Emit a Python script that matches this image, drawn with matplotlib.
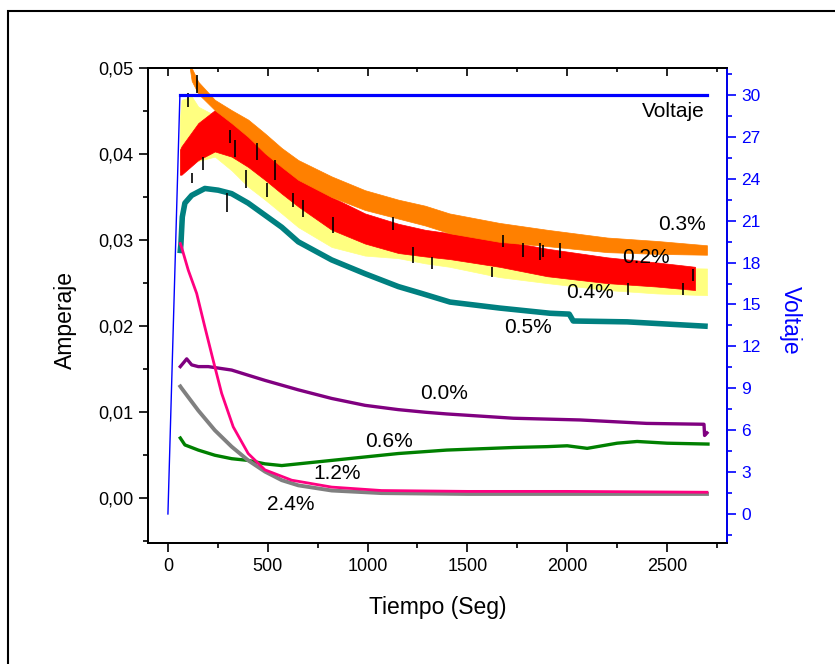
import numpy as np
import matplotlib
matplotlib.use('Agg')
from matplotlib import pyplot as plt
from matplotlib.ticker import MultipleLocator, FuncFormatter
from matplotlib.patches import Rectangle

plt.rcParams['font.family'] = ['Liberation Sans', 'DejaVu Sans']

# corriente (A) vs tiempo (s) para cada concentracion
# bandas con ruido: limite inferior / superior
t_03 = [60, 90, 119, 152, 235, 319, 402, 486, 570, 653, 820, 987, 1154, 1288, 1410, 1660, 1900, 2200, 2450, 2700]
hi_03 = [0.0600, 0.0550, 0.0500, 0.0484, 0.0463, 0.0451, 0.0440, 0.0424, 0.0407, 0.0393, 0.0374, 0.0358, 0.0347, 0.0340,
         0.0331, 0.0320, 0.0312, 0.0303, 0.0299, 0.0294]
lo_03 = [0.0580, 0.0530, 0.0485, 0.0470, 0.0451, 0.0436, 0.0420, 0.0401, 0.0385, 0.0370, 0.0350, 0.0335, 0.0325, 0.0317,
         0.0308, 0.0298, 0.0293, 0.0286, 0.0284, 0.0283]

t_02 = [60, 68, 152, 235, 319, 402, 486, 570, 653, 820, 987, 1154, 1288, 1410, 1660, 1900, 2200, 2450, 2640]
hi_02 = [0.0405, 0.0409, 0.0436, 0.0451, 0.0447, 0.0432, 0.0416, 0.0397, 0.0378, 0.0350, 0.0331, 0.0319, 0.0312,
         0.0308, 0.0300, 0.0290, 0.0280, 0.0274, 0.0269]
lo_02 = [0.0376, 0.0376, 0.0393, 0.0403, 0.0397, 0.0385, 0.0370, 0.0354, 0.0339, 0.0312, 0.0296, 0.0285, 0.0281,
         0.0278, 0.0269, 0.0258, 0.0250, 0.0246, 0.0242]

t_04 = [60, 68, 119, 152, 235, 319, 402, 486, 570, 653, 820, 987, 1154, 1288, 1410, 1660, 1900, 2200, 2450, 2700]
hi_04 = [0.0440, 0.0463, 0.0467, 0.0455, 0.0445, 0.0440, 0.0425, 0.0410, 0.0390, 0.0370, 0.0345, 0.0325, 0.0312, 0.0305,
         0.0300, 0.0290, 0.0280, 0.0272, 0.0268, 0.0267]
lo_04 = [0.0380, 0.0385, 0.0390, 0.0392, 0.0397, 0.0381, 0.0362, 0.0347, 0.0331, 0.0315, 0.0292, 0.0282, 0.0279, 0.0273,
         0.0269, 0.0257, 0.0250, 0.0242, 0.0238, 0.0236]

t_05 = [62, 65, 72, 85, 119, 185, 252, 319, 402, 486, 570, 653, 820, 987, 1154, 1271, 1413, 1663, 1914, 2010, 2030, 2300, 2690]
i_05 = [0.0288, 0.0295, 0.0327, 0.0343, 0.0352, 0.0360, 0.0358, 0.0354, 0.0343, 0.0329, 0.0315, 0.0298, 0.0277, 0.0261,
        0.0246, 0.0238, 0.0228, 0.0221, 0.0215, 0.0214, 0.0206, 0.0205, 0.0200]

t_00 = [62, 80, 94, 119, 152, 202, 319, 402, 486, 653, 820, 987, 1154, 1288, 1396, 1730, 2064, 2398, 2685, 2688, 2700]
i_00 = [0.0153, 0.0158, 0.0162, 0.0155, 0.0153, 0.0153, 0.0149, 0.0143, 0.0137, 0.0126, 0.0116, 0.0108, 0.0103, 0.0100,
        0.0098, 0.0093, 0.0091, 0.0087, 0.0086, 0.0073, 0.0076]

t_06 = [62, 85, 152, 235, 319, 402, 486, 570, 653, 820, 987, 1154, 1396, 1730, 1900, 2000, 2100, 2250, 2350, 2500, 2705]
i_06 = [0.0070, 0.0062, 0.0056, 0.0050, 0.0046, 0.0044, 0.0040, 0.0038, 0.0040, 0.0044, 0.0048, 0.0052, 0.0056, 0.0059,
        0.0060, 0.0061, 0.0058, 0.0064, 0.0066, 0.0064, 0.0063]

t_12 = [62, 68, 102, 144, 185, 227, 269, 327, 402, 486, 620, 820, 1070, 1500, 2000, 2700]
i_12 = [0.0296, 0.0292, 0.0265, 0.0238, 0.0199, 0.0160, 0.0122, 0.0083, 0.0052, 0.0033, 0.0021, 0.0013, 0.0009,
        0.0008, 0.0008, 0.0007]

t_24 = [62, 68, 152, 235, 319, 402, 486, 570, 653, 820, 1070, 1500, 2000, 2700]
i_24 = [0.0130, 0.0128, 0.0102, 0.0079, 0.0060, 0.0044, 0.0031, 0.0021, 0.0015, 0.0009, 0.0006, 0.0005, 0.0005, 0.0005]

# picos negros (t, I_min, I_max)
pico_t = [100, 120, 145, 175, 295, 311, 336, 391, 446, 496, 536, 627, 676, 827,
          1127, 1228, 1322, 1623, 1680, 1780, 1864, 1880, 1965, 2305, 2580, 2630]
pico_lo = [0.0455, 0.0366, 0.0471, 0.0381, 0.0333, 0.0413, 0.0397, 0.0360, 0.0393, 0.0350, 0.0370, 0.0338, 0.0327, 0.0308,
           0.0312, 0.0273, 0.0267, 0.0257, 0.0292, 0.0280, 0.0277, 0.0280, 0.0279, 0.0236, 0.0236, 0.0253]
pico_hi = [0.0471, 0.0378, 0.0492, 0.0397, 0.0355, 0.0428, 0.0416, 0.0381, 0.0413, 0.0366, 0.0393, 0.0355, 0.0347, 0.0327,
           0.0327, 0.0292, 0.0280, 0.0269, 0.0306, 0.0297, 0.0297, 0.0294, 0.0297, 0.0250, 0.0250, 0.0267]

# voltaje aplicado
t_rampa = [0, 60]
v_rampa = [0, 30]
t_volt = [60, 2700]
v_volt = [30, 30]

# etiquetas (texto, t, I)
etiquetas = [('0.3%', 2575, 0.0318), ('0.2%', 2395, 0.0280), ('0.4%', 2114, 0.0239),
             ('0.5%', 1804, 0.0199), ('0.0%', 1383, 0.0122), ('0.6%', 1107, 0.0066),
             ('1.2%', 846, 0.0029), ('2.4%', 616, -0.0007)]

fig = plt.figure(figsize=(8.35, 6.64), dpi=100)
fig.patches.append(Rectangle((0.0096, -0.2), 1.5, 1.1834, transform=fig.transFigure,
                             fill=False, lw=1.5, ec='black'))

ax = fig.add_axes([0.1772, 0.1822, 0.6934, 0.7154])
ax2 = ax.twinx()

ax.fill_between(t_04, lo_04, hi_04, color='#FFFF80', lw=0.5)
ax.fill_between(t_02, lo_02, hi_02, color='#FF0000', lw=0.5)
ax.fill_between(t_03, lo_03, hi_03, color='#FF8000', lw=0.5)
ax.plot(t_05, i_05, color='#008080', lw=4)
ax.vlines(pico_t, pico_lo, pico_hi, color='black', lw=1.2)
ax.plot(t_00, i_00, color='#800080', lw=2.4)
ax.plot(t_06, i_06, color='#008000', lw=2.4)
ax.plot(t_24, i_24, color='#808080', lw=2.8)
ax.plot(t_12, i_12, color='#FF0080', lw=2)

ax2.plot(t_rampa, v_rampa, color='blue', lw=1)
ax2.plot(t_volt, v_volt, color='blue', lw=2.3)

for txt, x, y in etiquetas:
    ax.text(x, y, txt, ha='center', va='center', fontsize=15)
ax.text(2690, 0.0450, 'Voltaje', ha='right', va='center', fontsize=15)

ax.set_xlim(-100, 2800)
ax.set_ylim(-0.0052, 0.05)
ax2.set_ylim(-2.08, 31.93)

ax.xaxis.set_major_locator(MultipleLocator(500))
ax.xaxis.set_minor_locator(MultipleLocator(250))
ax.yaxis.set_major_locator(MultipleLocator(0.01))
ax.yaxis.set_minor_locator(MultipleLocator(0.005))
ax.yaxis.set_major_formatter(FuncFormatter(lambda v, p: f'{v:.2f}'.replace('.', ',')))
ax2.yaxis.set_major_locator(MultipleLocator(3))
ax2.yaxis.set_minor_locator(MultipleLocator(1.5))

ax.tick_params(which='both', direction='out', labelsize=13, width=1.2, pad=4, right=False)
ax.tick_params(which='major', length=6.5)
ax.tick_params(which='minor', length=3.6)
ax2.tick_params(which='both', direction='out', colors='blue', labelsize=12.5, width=1.2, pad=4)
ax2.tick_params(which='major', length=6.5)
ax2.tick_params(which='minor', length=3.6)

top = ax.secondary_xaxis('top')
top.xaxis.set_major_locator(MultipleLocator(500))
top.xaxis.set_minor_locator(MultipleLocator(250))
top.tick_params(which='both', direction='in', labeltop=False, width=1.2)
top.tick_params(which='major', length=6)
top.tick_params(which='minor', length=3)

for s in ax.spines.values():
    s.set_linewidth(1.3)
for s in ax2.spines.values():
    s.set_linewidth(1.3)
top.spines['top'].set_linewidth(1.3)
ax2.spines['right'].set_color('blue')

ax.set_xlabel('Tiempo (Seg)', fontsize=16.5, va='center')
ax.xaxis.set_label_coords(0.5, -0.135)
ax.set_ylabel('Amperaje', fontsize=16.5, va='center')
ax.yaxis.set_label_coords(-0.142, 0.469)
ax2.set_ylabel('Voltaje', fontsize=16.5, color='blue', rotation=270, va='center')
ax2.yaxis.set_label_coords(1.109, 0.469)

fig.savefig('out.png', dpi=100)
